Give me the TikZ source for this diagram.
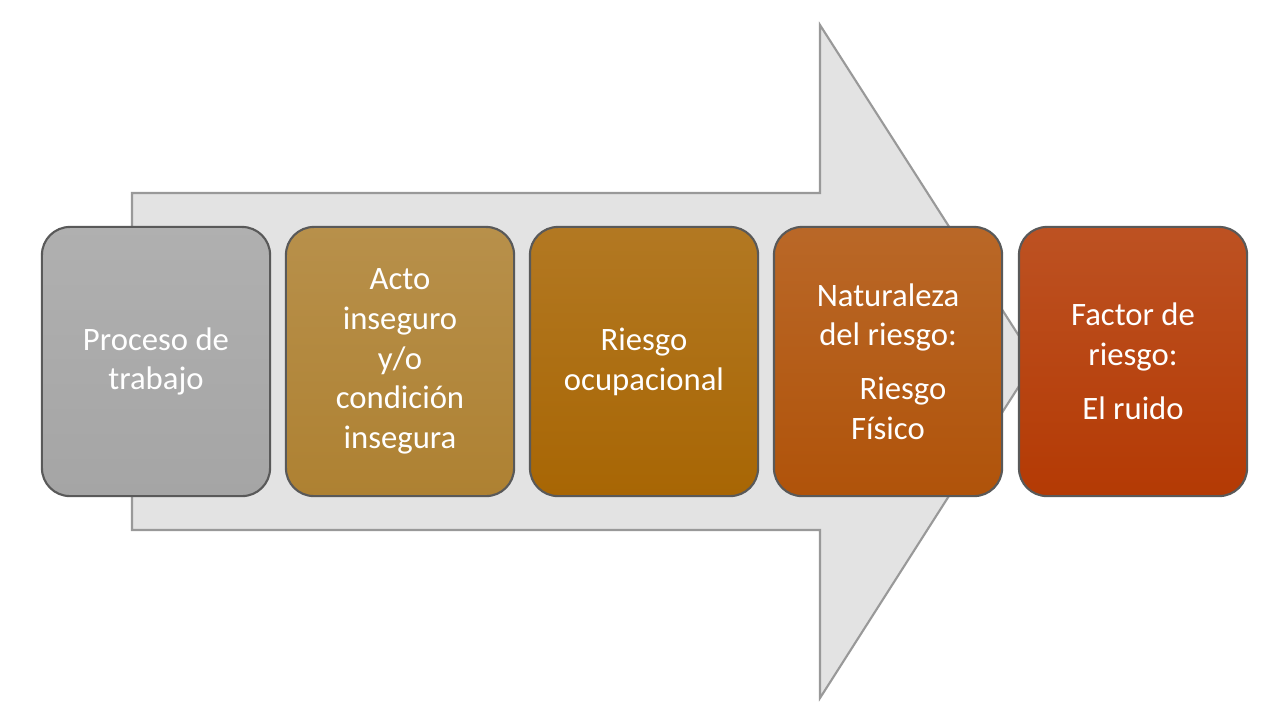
\documentclass[tikz,border=0pt]{standalone}
\usepackage{fontspec}
\setmainfont{Carlito}
\definecolor{c1}{HTML}{A5A5A5}
\definecolor{c2}{HTML}{AE8132}
\definecolor{c3}{HTML}{A86604}
\definecolor{c4}{HTML}{B0530A}
\definecolor{c5}{HTML}{B43A04}
\begin{document}
\begin{tikzpicture}[x=0.01cm,y=-0.01cm,
  stage/.style={draw=gray!70!black, line width=0.6pt, rounded corners=0.28cm, minimum width=2.28cm, minimum height=2.69cm, text=white, align=center, font=\fontsize{9.3}{11.3}\selectfont, inner sep=0pt}]
\useasboundingbox (0,0) rectangle (1280,720);
\fill[white] (0,0) rectangle (1280,720);
\draw[fill=gray!22, draw=gray!80, line width=0.6pt] (132,193) -- (820,193) -- (820,25) -- (1035,361) -- (820,698) -- (820,530) -- (132,530) -- cycle;
\node[stage, top color=c1!88!white, bottom color=c1] (a) at (156,361.5) {Proceso de\\trabajo};
\node[stage, top color=c2!88!white, bottom color=c2] (b) at (400,361.5) {Acto\\inseguro\\y/o\\condición\\insegura};
\node[stage, top color=c3!88!white, bottom color=c3] (c) at (644,361.5) {Riesgo\\ocupacional};
\node[stage, top color=c4!88!white, bottom color=c4] (d) at (888,361.5) {Naturaleza\\del riesgo:\\[4pt]\hspace*{0.3cm}Riesgo\\Físico};
\node[stage, top color=c5!88!white, bottom color=c5] (e) at (1133,361.5) {Factor de\\riesgo:\\[4pt]El ruido};
\end{tikzpicture}
\end{document}
